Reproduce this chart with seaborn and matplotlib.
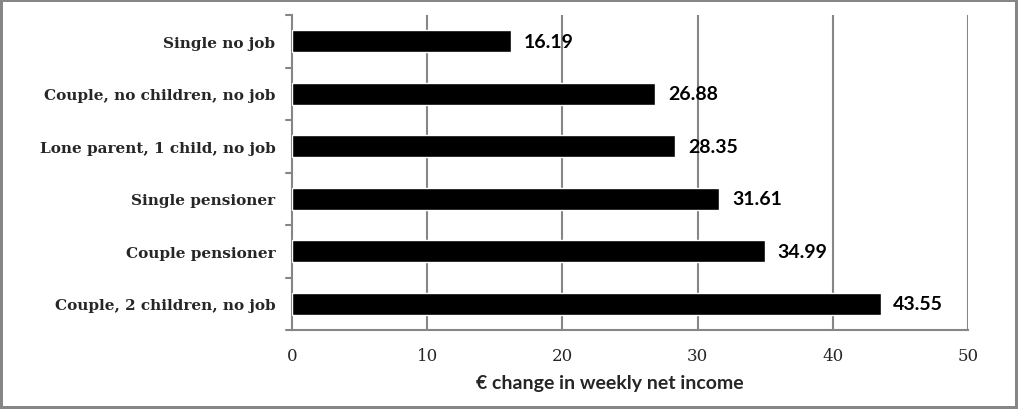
import pandas as pd
import matplotlib.pyplot as plt
import seaborn as sns

# chart data
categories = [
    'Single no job',
    'Couple, no children, no job',
    'Lone parent, 1 child, no job',
    'Single pensioner',
    'Couple pensioner',
    'Couple, 2 children, no job',
]
values = [16.19, 26.88, 28.35, 31.61, 34.99, 43.55]
x_ticks = [0, 10, 20, 30, 40, 50]
x_label = '€ change in weekly net income'

GREY = '#868686'

sns.set_theme(style='white')
plt.rcParams['font.family'] = ['DejaVu Serif']

df = pd.DataFrame({'group': categories, 'change': values})

fig = plt.figure(figsize=(10.18, 4.10), dpi=100)
fig.patch.set_edgecolor(GREY)
fig.patch.set_linewidth(3)
ax = fig.add_axes([292 / 1018, 1 - 331 / 410, (968 - 292) / 1018, (331 - 16) / 410])

sns.barplot(data=df, y='group', x='change', orient='h', color='black',
            width=0.41, saturation=1, ax=ax, zorder=3)

ax.set_xlim(0, 50)
ax.set_ylim(len(categories) - 0.5, -0.5)
ax.set_xticks(x_ticks)
ax.set_xticklabels([str(t) for t in x_ticks], family='DejaVu Serif', fontsize=12)
ax.set_yticks(range(len(categories)))
ax.set_yticklabels(categories, family='DejaVu Serif', fontweight='bold', fontsize=11)
ax.tick_params(axis='y', length=0, pad=12)
ax.tick_params(axis='x', length=6, color=GREY, width=1.5, pad=6, direction='out')

# category boundary ticks on the left axis
for b in [i - 0.5 for i in range(len(categories) + 1)]:
    ax.plot([-0.009, 0], [b, b], transform=ax.get_yaxis_transform(),
            color=GREY, lw=1.5, clip_on=False, zorder=4)

for t in x_ticks[1:]:
    ax.axvline(t, color=GREY, lw=1.5, zorder=1)

for s in ['top', 'right']:
    ax.spines[s].set_visible(False)
for s in ['left', 'bottom']:
    ax.spines[s].set_color(GREY)
    ax.spines[s].set_linewidth(1.5)

for i, v in enumerate(values):
    ax.annotate(f'{v:.2f}', (v, i), xytext=(9, 0), textcoords='offset points',
                ha='left', va='center', family='Lato', fontweight='bold',
                fontsize=14, color='black', zorder=5)

ax.set_xlabel(x_label, family='Lato', fontweight='bold', fontsize=14)
ax.xaxis.set_label_coords(0.47, -0.14)
ax.set_ylabel('')

fig.savefig('out.png', dpi=100, facecolor='white', edgecolor=GREY)
